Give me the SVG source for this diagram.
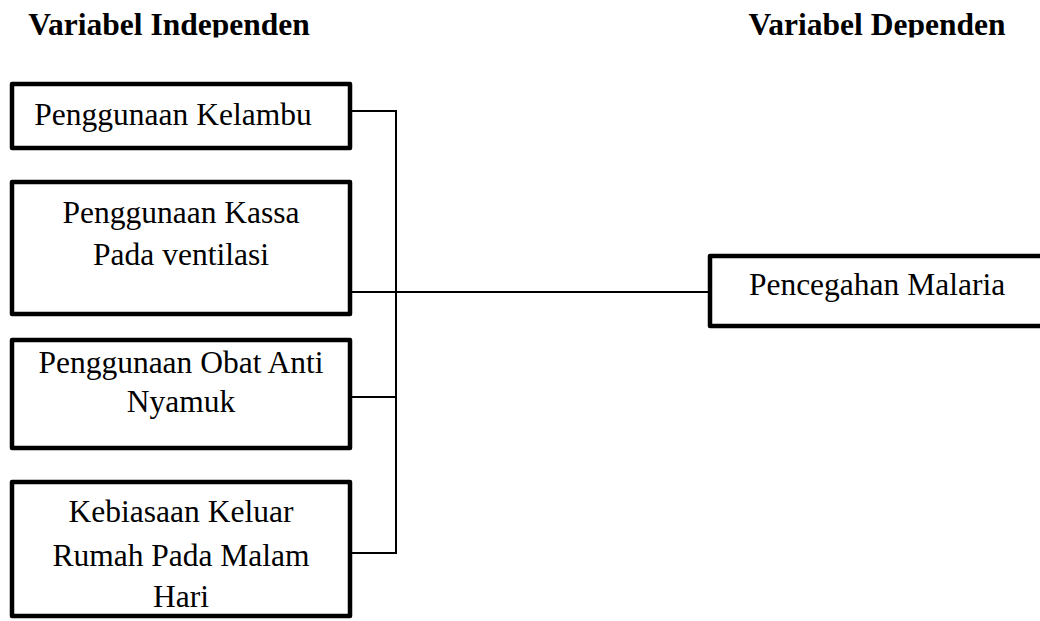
<svg xmlns="http://www.w3.org/2000/svg" width="1040" height="621" viewBox="0 0 1040 621">
<style>
.box{fill:#fff;stroke:#000;stroke-width:4.5;stroke-linejoin:round}
.t{font-family:"Liberation Serif","Times New Roman",serif;font-size:31.5px;fill:#000}
.h{font-family:"Liberation Serif","Times New Roman",serif;font-size:31.5px;font-weight:bold;fill:#000}
.c{fill:none;stroke:#000;stroke-width:2}
</style>
<rect width="1040" height="621" fill="#fff"/>
<g id="header-independen"><text class="h" x="169" y="35" text-anchor="middle">Variabel Independen</text></g>
<g id="header-dependen"><text class="h" x="877" y="35" text-anchor="middle">Variabel Dependen</text></g>
<rect x="0" y="37.5" width="1040" height="10" fill="#fff"/>
<g id="connectors">
<path class="c" d="M352 111H396M352 292H396M352 397H396M352 553H396M396 110V554M396 292H710"/>
</g>
<g id="node-kelambu">
<rect class="box" x="12" y="84" width="338" height="64"/>
<text class="t" x="173" y="125" text-anchor="middle">Penggunaan Kelambu</text>
</g>
<g id="node-kassa">
<rect class="box" x="12" y="182" width="338" height="132"/>
<text class="t" x="181" y="223" text-anchor="middle">Penggunaan Kassa</text>
<text class="t" x="181" y="265" text-anchor="middle">Pada ventilasi</text>
</g>
<g id="node-obat">
<rect class="box" x="12" y="340" width="338" height="108"/>
<text class="t" x="181" y="373" text-anchor="middle">Penggunaan Obat Anti</text>
<text class="t" x="181" y="412" text-anchor="middle">Nyamuk</text>
</g>
<g id="node-kebiasaan">
<rect class="box" x="12" y="482" width="338" height="134"/>
<text class="t" x="181" y="522" text-anchor="middle">Kebiasaan Keluar</text>
<text class="t" x="181" y="566" text-anchor="middle">Rumah Pada Malam</text>
<text class="t" x="181" y="607" text-anchor="middle">Hari</text>
</g>
<g id="node-pencegahan">
<rect class="box" x="710" y="256" width="340" height="70"/>
<text class="t" x="877" y="295" text-anchor="middle">Pencegahan Malaria</text>
</g>
</svg>
